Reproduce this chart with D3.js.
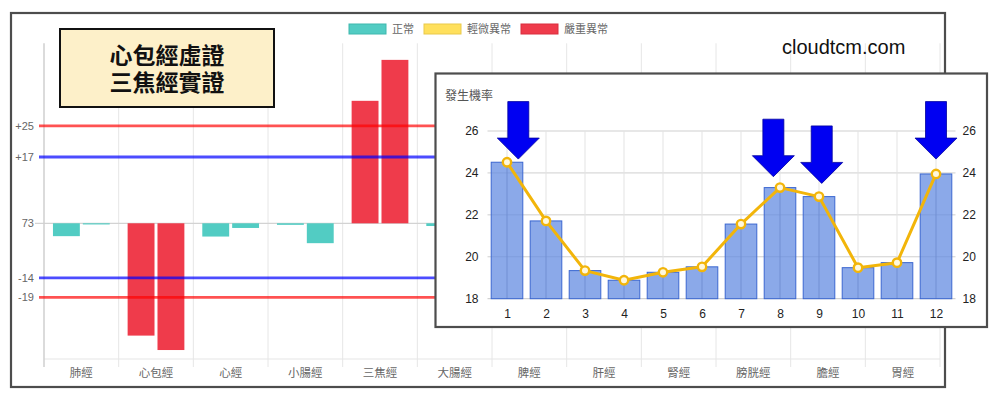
<!DOCTYPE html>
<html><head><meta charset="utf-8">
<script src="https://cdn.jsdelivr.net/npm/d3@7/dist/d3.min.js"></script>
<style>body{margin:0;background:#fff}svg{display:block}</style>
</head><body><svg id="c" width="1000" height="401"></svg>
<script>
// ---------- data ----------
const meridians = ["肺經","心包經","心經","小腸經","三焦經","大腸經","脾經","肝經","腎經","膀胱經","膽經","胃經"];
const sides = ["L","R"];
const leftValues  = [-3.3, -28.8, -3.4, -0.4, 31.4, -0.7, null, null, null, null, null, null];
const rightValues = [-0.3, -32.5, -1.2, -5.1, 41.9, null, null, null, null, null, null, null];
const leftLevels  = ["正常","嚴重異常","正常","正常","嚴重異常","正常", null,null,null,null,null,null];
const rightLevels = ["正常","嚴重異常","正常","正常","嚴重異常", null, null,null,null,null,null,null];
const legendLabels = ["正常","輕微異常","嚴重異常"];
const levelFill   = ["#52ccc3","#ffe05c","#ef3b4b"];
const levelStroke = ["#3fb8ae","#e9c94a","#d92f3f"];
const refLineValues = [25, 17, -14, -19];
const refLineLabels = ["+25","+17","-14","-19"];
const refLineColors = ["rgba(255,0,0,0.68)","rgba(0,0,255,0.7)","rgba(0,0,255,0.7)","rgba(255,0,0,0.68)"];
const baselineValue = 0;
const baselineLabel = "73";
const titleLines = ["心包經虛證","三焦經實證"];
const watermark = "cloudtcm.com";

const insetTitle = "發生機率";
const months = [1,2,3,4,5,6,7,8,9,10,11,12];
const monthRates = [24.51, 21.71, 19.34, 18.88, 19.26, 19.52, 21.56, 23.3, 22.87, 19.48, 19.72, 23.95];
const insetTicks = [18, 20, 22, 24, 26];
const arrowMonths = [1.29, 7.83, 9.07, 12.0];
const arrowTipValues = [24.66, 23.82, 23.5, 24.66];

// ---------- setup ----------
const svg = d3.select("#c");
const LATIN = "'Liberation Sans', Arial, 'Noto Sans CJK TC', sans-serif";
const CJK = "'Noto Sans CJK TC', 'Liberation Sans', sans-serif";

// outer frame
svg.append("rect").attr("x",11).attr("y",13).attr("width",934).attr("height",374)
  .attr("fill","#fff").attr("stroke","#4d4d4d").attr("stroke-width",2.2);

// ---------- main chart ----------
const x0 = d3.scaleBand().domain(meridians).range([44, 940]);
const x1 = d3.scaleBand().domain(sides).range([0, x0.bandwidth()*0.8]);
const y = d3.scaleLinear().domain([-34.8, 46.15]).range([359, 43.3]);
const g = svg.append("g");

// vertical grid lines at category boundaries (with tick extension)
const bounds = meridians.map(m => x0(m)).concat([x0.range()[1]]);
g.selectAll("line.vg").data(bounds.slice(1)).join("line")
  .attr("x1",d=>d).attr("x2",d=>d).attr("y1",43.3).attr("y2",367)
  .attr("stroke","#e6e6e6").attr("stroke-width",1);
// bottom line
g.append("line").attr("x1",44).attr("x2",940).attr("y1",y.range()[0]).attr("y2",y.range()[0])
  .attr("stroke","#e6e6e6").attr("stroke-width",1.2);
// zero line
g.append("line").attr("x1",35).attr("x2",940).attr("y1",y(baselineValue)).attr("y2",y(baselineValue))
  .attr("stroke","#d3d3d3").attr("stroke-width",1.2);
// y axis line
g.append("line").attr("x1",44).attr("x2",44).attr("y1",43.3).attr("y2",367)
  .attr("stroke","#cfcfcf").attr("stroke-width",1.5);

// bars
const barData = [];
meridians.forEach((m,i)=>{
  if (leftValues[i] !== null) barData.push({m, s:"L", v:leftValues[i], lv:leftLevels[i]});
  if (rightValues[i] !== null) barData.push({m, s:"R", v:rightValues[i], lv:rightLevels[i]});
});
const bw = x1.bandwidth()*0.9;
g.selectAll("rect.bar").data(barData).join("rect")
  .attr("x", d => x0(d.m) + x0.bandwidth()*0.1 + x1(d.s) + (x1.bandwidth()-bw)/2)
  .attr("width", bw)
  .attr("y", d => Math.min(y(d.v), y(0)))
  .attr("height", d => Math.abs(y(d.v)-y(0)))
  .attr("fill", d => levelFill[legendLabels.indexOf(d.lv)]);

// reference lines
g.selectAll("line.ref").data(refLineValues).join("line")
  .attr("x1",39).attr("x2",940).attr("y1",d=>y(d)).attr("y2",d=>y(d))
  .attr("stroke",(d,i)=>refLineColors[i]).attr("stroke-width",2.8);

// y labels
const yAx = d3.axisLeft(y).tickValues(refLineValues.concat([baselineValue]))
  .tickFormat(d => d===baselineValue ? baselineLabel : refLineLabels[refLineValues.indexOf(d)])
  .tickSize(0).tickPadding(10);
const ya = svg.append("g").attr("transform","translate(44,0)").call(yAx);
ya.select(".domain").remove();
ya.selectAll("text").attr("font-family",LATIN).attr("font-size",11).attr("fill","#666");

// x labels
const xAx = d3.axisBottom(x0).tickSize(0).tickPadding(10);
const xa = svg.append("g").attr("transform","translate(0,359)").call(xAx);
xa.select(".domain").remove();
xa.selectAll("text").attr("font-family",CJK).attr("font-size",11.5).attr("fill","#666");

// legend
let lx = 349;
const lg = svg.append("g");
legendLabels.forEach((lab,i)=>{
  lg.append("rect").attr("x",lx).attr("y",24).attr("width",37).attr("height",10)
    .attr("fill",levelFill[i]).attr("stroke",levelStroke[i]).attr("stroke-width",1);
  const t = lg.append("text").attr("x",lx+43).attr("y",29.5).attr("dy","0.35em")
    .attr("font-family",CJK).attr("font-size",11).attr("fill","#666").text(lab);
  lx = lx + 43 + t.node().getComputedTextLength() + 10;
});

// title box
svg.append("rect").attr("x",60).attr("y",29).attr("width",214).attr("height",78)
  .attr("fill","#fdf0c9").attr("stroke","#111").attr("stroke-width",2);
const tt = svg.append("text").attr("text-anchor","middle")
  .attr("font-family",CJK).attr("font-weight","bold").attr("font-size",23).attr("fill","#111");
tt.selectAll("tspan").data(titleLines).join("tspan")
  .attr("x",167).attr("y",(d,i)=>63.5+i*27.5).text(d=>d);

// watermark
svg.append("text").attr("x",782).attr("y",54).attr("font-family",LATIN).attr("font-size",20)
  .attr("fill","#111").text(watermark);

// ---------- inset ----------
const ins = svg.append("g");
ins.append("rect").attr("x",435.5).attr("y",73.5).attr("width",551.5).attr("height",253.5)
  .attr("fill","#fff").attr("stroke","#4d4d4d").attr("stroke-width",2.2);
ins.append("text").attr("x",445).attr("y",96).attr("dy","0.35em").attr("font-family",CJK)
  .attr("font-size",12).attr("fill","#555").text(insetTitle);

const ix = d3.scaleLinear().domain([0.5, 12.5]).range([487.5, 955.5]);
const iy = d3.scaleLinear().domain([18, 26]).range([298.7, 131]);
const step = ix(2)-ix(1);

// horizontal grid
ins.selectAll("line.hg").data(insetTicks).join("line")
  .attr("x1",487.5).attr("x2",955.5).attr("y1",d=>iy(d)).attr("y2",d=>iy(d))
  .attr("stroke",d=>d===18?"#c8c8c8":"#cfcfcf").attr("stroke-width",1);
// vertical grid at months
ins.selectAll("line.vg").data(months).join("line")
  .attr("x1",d=>ix(d)).attr("x2",d=>ix(d)).attr("y1",iy(26)).attr("y2",iy(18))
  .attr("stroke","#e3e3e3").attr("stroke-width",1);

// bars
const ibw = step*0.81;
ins.selectAll("rect.ib").data(monthRates).join("rect")
  .attr("x",(d,i)=>ix(months[i])-ibw/2).attr("width",ibw)
  .attr("y",d=>iy(d)).attr("height",d=>iy(18)-iy(d))
  .attr("fill","rgba(100,140,225,0.75)").attr("stroke","#3a66d0").attr("stroke-width",1);
// vertical grid drawn faintly over bars (as in reference)
ins.selectAll("line.vg2").data(monthRates).join("line")
  .attr("x1",(d,i)=>ix(months[i])).attr("x2",(d,i)=>ix(months[i])).attr("y1",d=>iy(d)).attr("y2",iy(18))
  .attr("stroke","rgba(60,90,170,0.25)").attr("stroke-width",1);

// line
const line = d3.line().x((d,i)=>ix(months[i])).y(d=>iy(d));
ins.append("path").datum(monthRates).attr("d",line).attr("fill","none")
  .attr("stroke","#f2b50a").attr("stroke-width",3).attr("stroke-linejoin","round");
ins.selectAll("circle.pt").data(monthRates).join("circle")
  .attr("cx",(d,i)=>ix(months[i])).attr("cy",d=>iy(d)).attr("r",4.2)
  .attr("fill","#fff8dc").attr("stroke","#f2b50a").attr("stroke-width",2.4);

// axes
const ixa = ins.append("g").attr("transform",`translate(0,${iy(18)})`)
  .call(d3.axisBottom(ix).tickValues(months).tickFormat(d3.format("d")).tickSize(0).tickPadding(11));
ixa.select(".domain").remove();
ixa.selectAll("text").attr("font-family",LATIN).attr("font-size",12).attr("fill","#222");
const iyl = ins.append("g").attr("transform","translate(487.5,0)")
  .call(d3.axisLeft(iy).tickValues(insetTicks).tickSize(0).tickPadding(9));
iyl.select(".domain").remove();
iyl.selectAll("text").attr("font-family",LATIN).attr("font-size",12).attr("fill","#222");
const iyr = ins.append("g").attr("transform","translate(955.5,0)")
  .call(d3.axisRight(iy).tickValues(insetTicks).tickSize(0).tickPadding(7));
iyr.select(".domain").remove();
iyr.selectAll("text").attr("font-family",LATIN).attr("font-size",12).attr("fill","#222");

// arrows (annotations, anchored in data coordinates)
const AL = 57.5, SW = 21, HW = 42, HH = 21;
ins.selectAll("path.arrow").data(arrowMonths).join("path")
  .attr("d",(d,i)=>{
    const cx = ix(d), ty = iy(arrowTipValues[i]);
    const top = ty-AL, hb = ty-HH;
    return `M${cx-SW/2},${top}L${cx+SW/2},${top}L${cx+SW/2},${hb}L${cx+HW/2},${hb}L${cx},${ty}L${cx-HW/2},${hb}L${cx-SW/2},${hb}Z`;
  })
  .attr("fill","#0000f2").attr("stroke","#0000a0").attr("stroke-width",0.8);
</script></body></html>
